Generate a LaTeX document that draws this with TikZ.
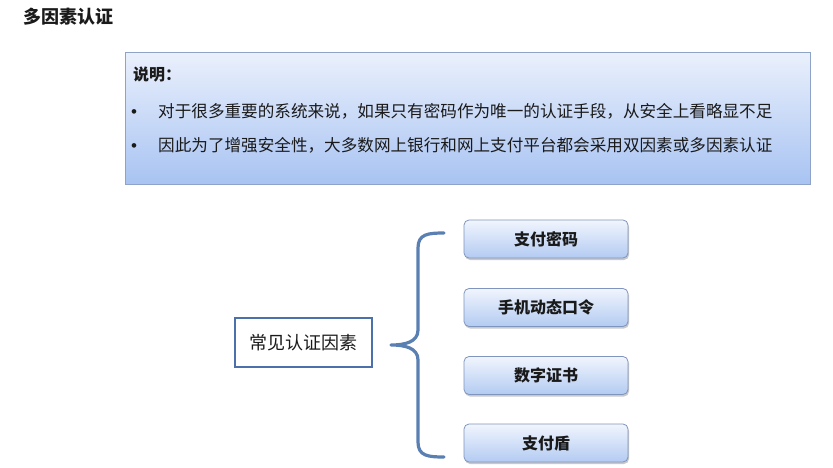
\documentclass[tikz,border=0pt]{standalone}
\usepackage{fontspec}
\setmainfont{Noto Sans CJK SC}
\newfontfamily\bulletfont{Liberation Sans}
\usetikzlibrary{shadows}
\definecolor{boxtop}{HTML}{EAF0FC}
\definecolor{boxbot}{HTML}{A8C3F2}
\definecolor{boxline}{HTML}{8FA3C8}
\definecolor{itemtop}{HTML}{F1F5FD}
\definecolor{itembot}{HTML}{B3CBF2}
\definecolor{itemline}{HTML}{7F95BE}
\definecolor{bracecol}{HTML}{5A7FB2}
\definecolor{leftline}{HTML}{4C70AA}
\definecolor{txt}{HTML}{1A1A1A}
\begin{document}
\begin{tikzpicture}[x=1pt,y=-1pt,
  itembox/.style={draw=itemline, line width=0.8pt, rounded corners=5pt,
    top color=itemtop, bottom color=itembot, minimum width=164pt, minimum height=38pt,
    font=\fontsize{16}{16}\selectfont\bfseries, text=txt,
    drop shadow={shadow xshift=1pt, shadow yshift=-2pt, opacity=0.35, fill=black!60}},
  bodytext/.style={anchor=base west, font=\fontsize{16.6}{16.6}\selectfont, text=txt, inner sep=0pt},
  bullet/.style={anchor=base west, font=\bulletfont\fontsize{17}{17}\selectfont, text=txt, inner sep=0pt}]
\useasboundingbox (0,0) rectangle (833,468);
\fill[white] (0,0) rectangle (833,468);
% title
\node[anchor=west, inner sep=0pt, font=\fontsize{18}{18}\selectfont\bfseries, text=txt] (title) at (23,17) {多因素认证};
% note box
\node[draw=boxline, line width=0.8pt, top color=boxtop, bottom color=boxbot,
  minimum width=685pt, minimum height=132pt, anchor=north west, inner sep=0pt] (note) at (125,52) {};
\node[anchor=west, inner sep=0pt, text=txt, font=\fontsize{16}{16}\selectfont\bfseries] (lbl) at (133,75) {说明：};
\node[bullet] (b1) at (131,117.5) {•};
\node[bodytext] (t1) at (158,117.5) {对于很多重要的系统来说，如果只有密码作为唯一的认证手段，从安全上看略显不足};
\node[bullet] (b2) at (131,151.5) {•};
\node[bodytext] (t2) at (158,151.5) {因此为了增强安全性，大多数网上银行和网上支付平台都会采用双因素或多因素认证};
% left box
\node[draw=leftline, line width=1.6pt, fill=white, minimum width=137pt, minimum height=49pt,
  font=\fontsize{18}{18}\selectfont, text=txt] (common) at (303.5,342.5) {常见认证因素};
% items
\node[itembox] (i1) at (546,239) {支付密码};
\node[itembox] (i2) at (546,307.5) {手机动态口令};
\node[itembox] (i3) at (546,375.5) {数字证书};
\node[itembox] (i4) at (546,443) {支付盾};
% brace
\coordinate (btop) at (444,233);
\coordinate (bbot) at (444,457);
\draw[bracecol, line width=3.2pt, line cap=round, line join=round]
  (btop) .. controls (428,233) and (418,234) .. (418,248)
  -- (418,330) .. controls (418,342) and (405,345) .. (391,345)
  .. controls (405,345) and (418,348) .. (418,360)
  -- (418,442) .. controls (418,456) and (428,457) .. (bbot);
\end{tikzpicture}
\end{document}
